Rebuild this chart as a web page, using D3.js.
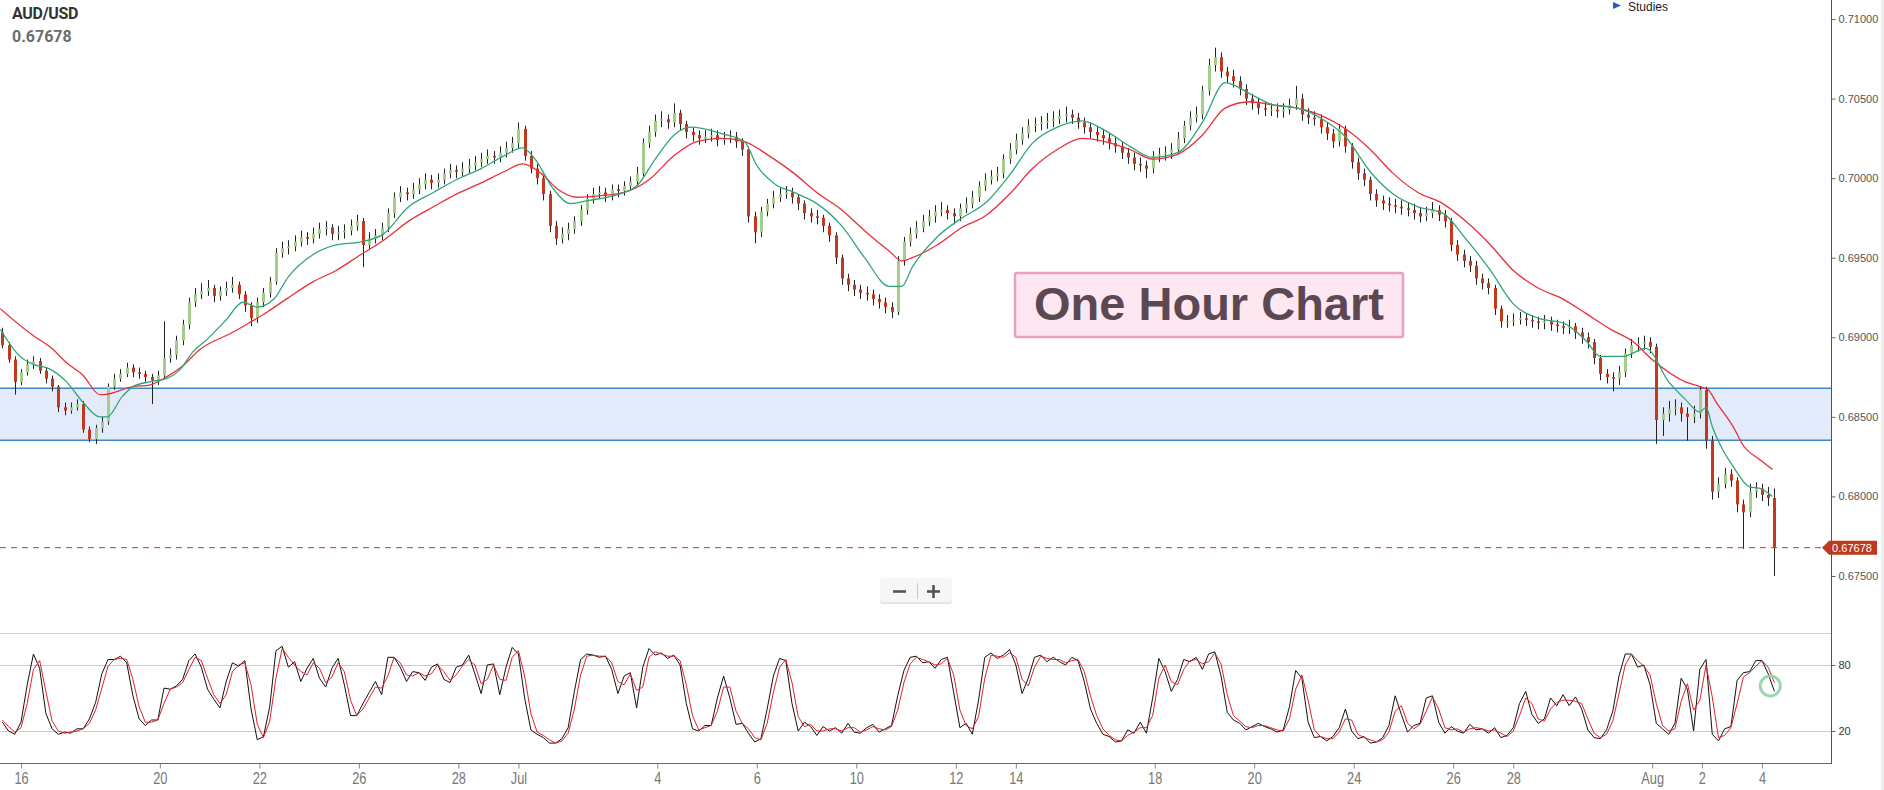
<!DOCTYPE html>
<html><head><meta charset="utf-8">
<script src="https://cdn.jsdelivr.net/npm/d3@7"></script>
<style>
html,body{margin:0;padding:0;background:#fff;overflow:hidden}
svg{display:block}
</style></head><body>
<svg id="chart" width="1884" height="790"></svg>
<script>
// ---------------- DATA ----------------
const symbol = "AUD/USD";
const lastPrice = 0.67678;
const zoneLow = 0.68353, zoneHigh = 0.6868;
const priceTicks = [0.675, 0.68, 0.685, 0.69, 0.695, 0.70, 0.705, 0.71];
const stochTicks = [20, 80];
const tickLabels = ["16","20","22","26","28","Jul","4","6","10","12","14","18","20","24","26","28","Aug","2","4"];
const tickHours  = [0,67,115,163,211,240,307,355,403,451,480,547,595,643,691,720,787,811,840];
// 3-hour candles, trading-hour index of first bar and bar length (hours)
const barStart = -9, barHours = 3;
const firstOpen = 6903;
// prices in pips (x 0.0001)
const closes = [
6895,6886,6872,6878,6883,6885,6879,6874,6869,6856,
6854,6856,6858,6842,6836,6843,6847,6869,6874,6877,
6881,6878,6877,6875,6873,6876,6887,6889,6898,6908,
6922,6927,6929,6931,6926,6929,6931,6933,6927,6920,
6912,6922,6928,6935,6953,6956,6957,6960,6963,6962,
6965,6968,6969,6965,6966,6967,6970,6973,6958,6962,
6964,6969,6978,6988,6991,6990,6993,6996,6999,6997,
6999,7003,7005,7004,7006,7008,7010,7012,7014,7013,
7016,7019,7022,7031,7014,7006,7000,6990,6970,6962,
6965,6968,6973,6980,6987,6990,6991,6989,6993,6992,
6995,6998,7003,7022,7029,7036,7037,7035,7041,7034,
7029,7027,7025,7026,7027,7024,7025,7026,7023,7018,
6976,6966,6979,6984,6988,6990,6991,6988,6984,6978,
6976,6975,6970,6964,6950,6937,6933,6930,6928,6927,
6924,6922,6919,6916,6948,6960,6965,6969,6973,6976,
6979,6980,6978,6976,6981,6984,6988,6995,6999,7001,
7003,7012,7018,7024,7028,7033,7034,7035,7036,7037,
7039,7040,7038,7035,7032,7029,7027,7025,7022,7020,
7016,7013,7009,7008,7006,7014,7015,7016,7018,7025,
7033,7038,7040,7055,7071,7076,7067,7064,7061,7056,
7050,7047,7044,7043,7043,7042,7043,7046,7050,7040,
7038,7037,7032,7028,7023,7031,7020,7010,7003,6999,
6990,6986,6984,6983,6982,6981,6980,6978,6976,6978,
6980,6977,6973,6958,6952,6948,6945,6937,6934,6931,
6918,6910,6910,6911,6912,6911,6910,6909,6910,6908,
6907,6906,6907,6903,6900,6897,6887,6877,6875,6874,
6878,6890,6895,6896,6897,6894,6848,6852,6855,6856,
6852,6850,6852,6867,6835,6803,6808,6814,6810,6795,
6790,6803,6805,6801,6799,6767.8];
const highs = [
6906,6897,6888,6880,6886,6888,6887,6881,6876,6870,
6859,6859,6861,6860,6844,6845,6850,6871,6877,6880,
6884,6883,6881,6879,6877,6879,6910,6893,6901,6911,
6925,6931,6934,6936,6933,6932,6935,6938,6935,6929,
6922,6925,6931,6938,6956,6960,6961,6964,6967,6966,
6969,6972,6973,6971,6970,6971,6974,6977,6975,6966,
6968,6972,6981,6991,6995,6994,6997,7000,7003,7002,
7003,7006,7009,7008,7010,7012,7014,7016,7018,7017,
7020,7023,7026,7035,7033,7017,7009,7002,6992,6973,
6969,6972,6976,6983,6990,6994,6995,6994,6996,6996,
6998,7001,7007,7025,7033,7040,7042,7040,7047,7043,
7036,7032,7030,7030,7031,7030,7029,7030,7029,7025,
7020,6979,6982,6987,6992,6994,6995,6994,6990,6986,
6981,6980,6977,6972,6966,6952,6940,6936,6933,6932,
6930,6927,6925,6922,6951,6963,6969,6973,6977,6980,
6983,6985,6983,6981,6984,6988,6992,6998,7003,7005,
7007,7015,7022,7028,7032,7037,7038,7039,7041,7042,
7043,7045,7043,7041,7038,7035,7032,7031,7028,7026,
7023,7019,7016,7013,7011,7017,7019,7020,7022,7029,
7036,7042,7045,7058,7075,7082,7079,7070,7068,7064,
7059,7053,7050,7048,7047,7047,7047,7050,7058,7053,
7044,7042,7040,7035,7031,7034,7033,7022,7013,7006,
7001,6993,6989,6988,6987,6986,6985,6984,6982,6982,
6985,6983,6980,6975,6961,6955,6951,6948,6940,6937,
6933,6920,6914,6915,6916,6915,6914,6913,6914,6913,
6911,6910,6911,6909,6906,6903,6899,6889,6880,6878,
6882,6893,6899,6900,6901,6900,6896,6856,6860,6861,
6859,6856,6857,6869,6869,6838,6812,6818,6817,6812,
6798,6808,6809,6808,6806,6805];
const lows = [
6893,6884,6864,6870,6876,6880,6877,6871,6866,6853,
6851,6852,6854,6840,6834,6833,6840,6845,6867,6872,
6875,6875,6874,6872,6858,6870,6874,6884,6886,6895,
6905,6919,6924,6926,6922,6923,6926,6928,6924,6916,
6907,6909,6919,6925,6933,6950,6952,6954,6957,6958,
6959,6962,6964,6961,6961,6962,6964,6967,6944,6955,
6959,6961,6966,6975,6985,6986,6987,6990,6993,6993,
6994,6996,7000,7000,7001,7003,7005,7007,7009,7009,
7010,7013,7016,7019,7011,7003,6996,6986,6966,6958,
6959,6961,6965,6970,6977,6984,6987,6985,6986,6988,
6989,6992,6995,7001,7019,7026,7032,7031,7032,7030,
7025,7023,7021,7022,7023,7020,7021,7022,7019,7014,
6972,6959,6963,6976,6981,6985,6987,6984,6980,6974,
6972,6971,6966,6960,6946,6933,6929,6926,6924,6923,
6920,6918,6915,6912,6914,6945,6957,6962,6966,6970,
6972,6976,6974,6971,6973,6978,6981,6985,6992,6996,
6998,7000,7009,7015,7021,7025,7029,7030,7031,7032,
7034,7035,7034,7031,7028,7025,7023,7021,7018,7016,
7012,7009,7005,7004,7000,7003,7010,7011,7012,7015,
7022,7030,7035,7037,7052,7067,7063,7060,7057,7052,
7046,7043,7040,7039,7039,7038,7038,7040,7043,7036,
7034,7033,7028,7024,7019,7020,7016,7006,6999,6995,
6986,6982,6980,6979,6978,6977,6976,6974,6972,6973,
6975,6973,6969,6954,6948,6944,6941,6933,6930,6927,
6914,6906,6906,6907,6908,6907,6906,6905,6905,6904,
6903,6902,6902,6899,6896,6893,6883,6873,6871,6866,
6870,6875,6887,6891,6892,6890,6833,6838,6847,6851,
6847,6835,6846,6849,6830,6798,6799,6805,6806,6790,
6767,6787,6799,6797,6794,6750];
// moving averages: [trading hour, pips]
const greenMA = [[-10,6905],[-0.5,6888],[6,6883],[14,6880],[22,6872],[30,6859],[38,6850],[41.5,6850],[49,6863],[54,6869],[62,6872],[70,6874],[77,6880],[83,6891],[90,6899],[99,6911],[107,6922],[114,6919],[122,6924],[129,6938],[141,6952],[152,6958],[164,6960],[175,6965],[187,6982],[199,6991],[210,6999],[222,7006],[233,7014],[242,7019],[248,7012],[257,6993],[265,6984],[274,6986],[286,6989],[297,6995],[306,7012],[315,7027],[323,7032],[338,7028],[349,7023],[355,7008],[364,6996],[373,6991],[384,6984],[396,6970],[407,6950],[419,6932],[425,6932],[430,6944],[442,6963],[454,6975],[465,6984],[477,7002],[488,7022],[500,7032],[512,7036],[523,7030],[535,7020],[546,7013],[558,7016],[570,7035],[581,7060],[593,7053],[604,7046],[616,7044],[628,7037],[639,7026],[651,7004],[662,6990],[674,6982],[686,6978],[697,6962],[709,6942],[720,6921],[732,6912],[744,6909],[755,6898],[762,6888],[773,6888],[784,6893],[795,6872],[803,6861],[810,6853],[813,6856],[816,6844],[820,6832],[826,6819],[834,6806],[839,6805],[845,6800]];
const redMA = [[-10,6918],[6,6901],[14,6894],[22,6884],[30,6876],[38,6864],[40,6864],[54,6869],[62,6870],[70,6875],[78,6882],[86,6892],[102,6903],[110,6909],[119,6916],[128,6924],[141,6935],[152,6942],[164,6952],[175,6961],[187,6973],[199,6982],[210,6990],[222,6997],[233,7004],[242,7009],[251,7003],[259,6993],[268,6988],[280,6989],[291,6991],[303,6999],[315,7014],[326,7023],[338,7025],[349,7023],[361,7014],[373,7003],[384,6991],[396,6980],[407,6967],[419,6954],[425,6948],[430,6950],[442,6958],[454,6969],[465,6976],[477,6990],[488,7006],[500,7018],[512,7025],[523,7023],[535,7018],[546,7012],[558,7015],[570,7027],[581,7044],[593,7048],[604,7046],[616,7044],[628,7039],[639,7031],[651,7018],[662,7003],[674,6991],[686,6984],[697,6973],[709,6958],[720,6942],[732,6931],[744,6924],[755,6915],[767,6905],[778,6897],[787,6886],[803,6872],[810,6869],[814,6867],[818,6859],[826,6844],[831,6832],[839,6823],[845,6817]];
// stochastic %K (black) and %D (red), one value per 3-hour bar
const stochK = [28,20,17,28,62,90,77,36,22,17,19,18,22,22,31,46,72,85,85,88,82,52,31,25,30,30,59,58,61,67,84,90,78,58,49,41,65,82,79,84,40,12,15,42,93,97,78,83,65,77,86,68,60,77,86,62,34,34,45,55,65,53,87,87,78,65,74,73,66,78,81,67,64,78,80,89,72,54,80,81,53,78,96,90,50,21,17,14,9,9,13,23,56,85,90,89,87,88,76,54,70,73,41,78,95,89,91,86,89,80,45,22,20,25,25,50,70,50,26,27,18,10,13,40,70,86,84,45,20,28,24,16,24,20,23,18,27,19,18,23,26,19,22,25,52,75,87,88,82,83,77,85,87,55,23,27,17,48,87,91,86,89,94,80,54,68,87,89,83,87,83,80,87,84,65,40,27,17,15,10,11,21,18,28,18,50,86,74,56,67,85,83,87,76,90,92,70,37,30,27,21,24,27,24,22,19,21,42,75,68,28,14,15,11,15,23,40,20,13,15,9,10,14,25,52,35,19,25,27,50,52,28,18,24,20,18,26,21,22,18,23,14,16,23,45,56,35,27,31,50,43,53,43,51,40,21,14,13,21,38,70,90,90,78,80,62,27,22,17,27,68,58,20,76,85,17,11,22,24,66,73,74,84,84,72,56];
const stochD = [30,24,19,23,45,76,84,56,29,20,18,19,20,22,27,39,59,79,85,86,85,67,42,28,28,30,45,58,60,64,76,87,84,68,53,45,53,74,80,82,62,26,14,29,68,95,87,80,74,71,82,77,64,69,82,74,48,34,40,50,60,59,70,87,82,71,70,73,70,72,80,74,66,71,79,85,80,63,67,80,67,66,87,93,70,36,19,16,12,9,11,18,40,71,88,89,88,88,82,65,62,72,57,60,87,92,90,88,88,84,62,34,21,23,25,38,60,60,38,27,22,14,12,27,55,78,85,64,33,24,26,20,20,22,22,20,23,23,19,21,24,22,21,24,39,64,81,87,85,83,80,81,86,71,39,25,22,33,68,89,88,87,91,87,67,61,78,88,86,85,85,82,84,85,74,52,34,22,16,12,11,16,19,23,23,34,68,80,65,62,76,84,85,81,83,91,81,53,34,29,24,23,25,25,23,21,20,31,58,71,48,21,15,13,13,19,31,30,17,14,12,10,12,19,38,43,27,22,26,38,51,40,23,21,22,19,22,23,22,20,21,18,15,20,34,50,45,31,29,40,46,48,48,47,45,31,18,14,17,29,54,80,90,84,79,71,45,25,20,22,47,63,39,48,80,51,14,16,23,45,69,73,79,84,78,64];

// ---------------- LAYOUT ----------------
const plotRight = 1831, mainBottom = 633, axisY = 763;
const svg = d3.select("#chart");
const x = d3.scaleLinear().domain([0, 840]).range([21, 1762]);
const y = d3.scaleLinear().domain([0.675, 0.71]).range([576, 19]);
const yS = d3.scaleLinear().domain([20, 80]).range([731, 665]);
const pip = v => v / 10000;

svg.append("defs").append("clipPath").attr("id","mainClip")
  .append("rect").attr("x",0).attr("y",0).attr("width",plotRight).attr("height",mainBottom);
svg.select("defs").append("clipPath").attr("id","stochClip")
  .append("rect").attr("x",0).attr("y",mainBottom+1).attr("width",plotRight).attr("height",axisY-mainBottom-1);

// right grey border
svg.append("rect").attr("x",1881).attr("y",0).attr("width",3).attr("height",790).attr("fill","#eeeeee");

// support zone
const main = svg.append("g").attr("clip-path","url(#mainClip)");
main.append("rect").attr("x",0).attr("width",plotRight)
  .attr("y",y(zoneHigh)).attr("height",y(zoneLow)-y(zoneHigh)).attr("fill","#e3ebfa");
[zoneHigh, zoneLow].forEach(v => main.append("line").attr("x1",0).attr("x2",plotRight)
  .attr("y1",y(v)).attr("y2",y(v)).attr("stroke","#3f87c9").attr("stroke-width",1.4));

// candles
const bars = closes.map((c, i) => {
  const o = i === 0 ? firstOpen : closes[i-1];
  return {t: barStart + i*barHours, o: pip(o), c: pip(c),
          h: pip(Math.max(highs[i], o, c)), l: pip(Math.min(lows[i], o, c))};
});
const cg = main.append("g");
cg.selectAll("line.wick").data(bars).join("line").attr("class","wick")
  .attr("x1",d=>Math.round(x(d.t))+0.5).attr("x2",d=>Math.round(x(d.t))+0.5)
  .attr("y1",d=>y(d.h)).attr("y2",d=>y(d.l)).attr("stroke","#222").attr("stroke-width",1);
cg.selectAll("rect.body").data(bars).join("rect").attr("class","body")
  .attr("x",d=>Math.round(x(d.t))-1).attr("width",3)
  .attr("y",d=>y(Math.max(d.o,d.c)))
  .attr("height",d=>Math.max(1, Math.abs(y(d.o)-y(d.c))))
  .attr("fill",d=>d.c>=d.o ? "#a2cd8a" : "#c2391f");

// moving averages
const maLine = d3.line().x(d=>x(d[0])).y(d=>y(pip(d[1]))).curve(d3.curveMonotoneX);
main.append("path").attr("d",maLine(redMA)).attr("fill","none").attr("stroke","#e8303a").attr("stroke-width",1.3);
main.append("path").attr("d",maLine(greenMA)).attr("fill","none").attr("stroke","#2fa57a").attr("stroke-width",1.3);

// last price dashed line + tag
main.append("line").attr("x1",0).attr("x2",1822).attr("y1",y(lastPrice)).attr("y2",y(lastPrice))
  .attr("stroke","#c0392b").attr("stroke-width",1).attr("stroke-dasharray","6,5");
const ly = y(lastPrice);
svg.append("path").attr("d",`M1822,${ly} L1829,${ly-7} L1877,${ly-7} L1877,${ly+7} L1829,${ly+7} Z`).attr("fill","#bd3a1c");
svg.append("text").attr("x",1852).attr("y",ly+4).attr("text-anchor","middle")
  .attr("font-family","Liberation Sans, Arial, sans-serif").attr("font-size",11).attr("fill","#fff").text(d3.format(".5f")(lastPrice));

// separators and axis lines
svg.append("line").attr("x1",0).attr("x2",plotRight).attr("y1",mainBottom+0.5).attr("y2",mainBottom+0.5).attr("stroke","#cfcfcf");
stochTicks.forEach(v => svg.append("line").attr("x1",0).attr("x2",plotRight).attr("y1",Math.round(yS(v))+0.5).attr("y2",Math.round(yS(v))+0.5).attr("stroke","#cccccc"));
svg.append("line").attr("x1",0).attr("x2",plotRight).attr("y1",axisY+0.5).attr("y2",axisY+0.5).attr("stroke","#666");
svg.append("line").attr("x1",plotRight+0.5).attr("x2",plotRight+0.5).attr("y1",0).attr("y2",axisY+1).attr("stroke","#555");

// right price axis
const yAxis = d3.axisRight(y).tickValues(priceTicks).tickFormat(d3.format(".5f")).tickSize(4).tickPadding(3);
const ga = svg.append("g").attr("transform",`translate(${plotRight+0.5},0)`).call(yAxis);
ga.select(".domain").remove();
ga.selectAll("line").attr("stroke","#666");
ga.selectAll("text").attr("font-family","Liberation Sans, Arial, sans-serif").attr("font-size",11).attr("fill","#555");

// stochastic axis
const sAxis = d3.axisRight(yS).tickValues(stochTicks).tickFormat(d3.format("d")).tickSize(4).tickPadding(3);
const gs = svg.append("g").attr("transform",`translate(${plotRight+0.5},0)`).call(sAxis);
gs.select(".domain").remove();
gs.selectAll("line").attr("stroke","#666");
gs.selectAll("text").attr("font-family","Liberation Sans, Arial, sans-serif").attr("font-size",11).attr("fill","#333");

// bottom time axis
const xAxis = d3.axisBottom(x).tickValues(tickHours).tickFormat((d,i)=>tickLabels[i]).tickSize(5).tickPadding(4);
const gx = svg.append("g").attr("transform",`translate(0,${axisY+0.5})`).call(xAxis);
gx.select(".domain").remove();
gx.selectAll("line").attr("stroke","#888");
gx.selectAll("text").attr("font-family","Liberation Sans, Arial, sans-serif").attr("font-size",16)
  .attr("fill","#777").attr("transform","scale(0.8,1)");

// stochastic lines
const sg = svg.append("g").attr("clip-path","url(#stochClip)");
const sLine = d3.line().x((d,i)=>x(barStart + i*barHours)).y(d=>yS(d));
sg.append("path").attr("d",sLine(stochK)).attr("fill","none").attr("stroke","#111").attr("stroke-width",1);
sg.append("path").attr("d",sLine(stochD)).attr("fill","none").attr("stroke","#e0202c").attr("stroke-width",1);
// highlight circle on last stochastic reading
svg.append("circle").attr("cx",x(844)).attr("cy",yS(61)).attr("r",10)
  .attr("fill","none").attr("stroke","#8ed5aa").attr("stroke-width",3).attr("opacity",0.9);

// title block
svg.append("text").attr("x",12).attr("y",19).attr("font-family","Roboto, sans-serif").attr("font-weight",700)
  .attr("font-size",16).attr("fill","#333").attr("letter-spacing","-0.3").text(symbol);
svg.append("text").attr("x",12).attr("y",42).attr("font-family","Roboto, sans-serif").attr("font-weight",700)
  .attr("font-size",16).attr("fill","#6b6b6b").text(d3.format(".5f")(lastPrice));

// studies menu
svg.append("path").attr("d","M1613,2 L1621,5.5 L1613,9 Z").attr("fill","#1e5fc0");
svg.append("text").attr("x",1628).attr("y",11).attr("font-family","Liberation Sans, Arial, sans-serif")
  .attr("font-size",12).attr("fill","#222").text("Studies");

// zoom buttons
const zb = svg.append("g");
zb.append("rect").attr("x",880).attr("y",579).attr("width",72).attr("height",25).attr("rx",3).attr("fill","#e4e4e4");
zb.append("rect").attr("x",880).attr("y",578).attr("width",72).attr("height",24).attr("rx",3).attr("fill","#f6f6f6");
zb.append("line").attr("x1",893).attr("x2",906).attr("y1",591.5).attr("y2",591.5).attr("stroke","#555").attr("stroke-width",2.6);
zb.append("line").attr("x1",927).attr("x2",940).attr("y1",591.5).attr("y2",591.5).attr("stroke","#555").attr("stroke-width",2.6);
zb.append("line").attr("x1",933.5).attr("x2",933.5).attr("y1",585).attr("y2",598).attr("stroke","#555").attr("stroke-width",2.6);
zb.append("line").attr("x1",917.5).attr("x2",917.5).attr("y1",583).attr("y2",599).attr("stroke","#c8c8c8").attr("stroke-width",1);

// annotation box
svg.append("rect").attr("x",1015).attr("y",273).attr("width",388).attr("height",64).attr("rx",2)
  .attr("fill","#fde8f2").attr("stroke","#eb9fc1").attr("stroke-width",2.5);
svg.append("text").attr("x",1209).attr("y",320).attr("text-anchor","middle")
  .attr("font-family","Liberation Sans, Arial, sans-serif").attr("font-weight",700).attr("font-size",47)
  .attr("fill","#5b4852").text("One Hour Chart");
</script>
</body></html>
